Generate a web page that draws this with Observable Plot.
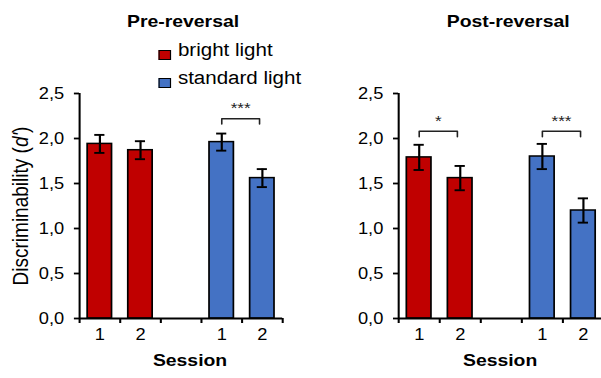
<!DOCTYPE html>
<html>
<head>
<meta charset="utf-8">
<script src="https://cdn.jsdelivr.net/npm/d3@7"></script>
<script src="https://cdn.jsdelivr.net/npm/@observablehq/plot@0.6"></script>
<style>
  html, body { margin: 0; padding: 0; background: #fff; }
  body { width: 601px; height: 378px; overflow: hidden; font-family: "Liberation Sans", Arial, sans-serif; color: #000; }
  #stage { position: absolute; left: 0; top: 0; width: 527px; height: 378px; transform: scaleX(1.1404); transform-origin: 0 0; }
  .abs { position: absolute; white-space: nowrap; line-height: 1; }
  .title { font-weight: bold; font-size: 17px; transform: translateX(-50%); }
  .leg { font-size: 18px; }
  .sw { position: absolute; width: 9px; height: 8px; border: 1.5px solid #000; }
  .ylab { font-size: 19px; transform: translate(-50%, -50%) rotate(-90deg); }
  #left, #right { position: absolute; top: 0; }
  #left { left: 0; }
  #right { left: 263px; }
</style>
</head>
<body>
<div id="stage">
  <div id="left"></div>
  <div id="right"></div>
</div>
<script>
// ---- data ----
const panelTitles = ["Pre-reversal", "Post-reversal"];
const conditions = ["bright light", "standard light"];
const sessions = ["1", "2"];
const colors = ["#C00000", "#4472C4"];
const yTicks = [0, 0.5, 1.0, 1.5, 2.0, 2.5];
// order: bright 1, bright 2, standard 1, standard 2
const preMeans = [1.94, 1.87, 1.96, 1.56];
const preSE = [0.10, 0.10, 0.095, 0.10];
const postMeans = [1.79, 1.56, 1.80, 1.20];
const postSE = [0.14, 0.135, 0.14, 0.135];
// significance brackets: condition index, bracket level (d'), label
const preSig = [{cond: 1, level: 2.22, label: "***"}];
const postSig = [{cond: 0, level: 2.08, label: "*"}, {cond: 1, level: 2.08, label: "***"}];
const yLabel = "Discriminability";
const xLabel = "Session";

// ---- helpers ----
const slotsPerCond = sessions.length + 1;
const nSlots = conditions.length * slotsPerCond - 1;
const slotOf = (ci, si) => ci * slotsPerCond + si;
const fmt = d => d3.format(".1f")(d).replace(".", ",");

function buildData(means, se) {
  return means.map((m, i) => {
    const ci = Math.floor(i / sessions.length), si = i % sessions.length;
    return {cond: conditions[ci], session: sessions[si], slot: slotOf(ci, si), mean: m, se: se[i]};
  });
}

function panel(means, se, sigs, width, xRange) {
  const data = buildData(means, se);
  const drop = 0.06;
  const brackets = sigs.flatMap((s, k) => {
    const a = slotOf(s.cond, 0) + 0.5, b = slotOf(s.cond, 1) + 0.5 - 0.07;
    return [
      {id: k, x: a, y: s.level - drop}, {id: k, x: a, y: s.level},
      {id: k, x: b, y: s.level}, {id: k, x: b, y: s.level - drop}
    ];
  });
  const starData = sigs.map(s => ({x: slotOf(s.cond, 0) + 1 - 0.035, y: s.level, label: s.label}));
  const labelTicks = data.map(d => d.slot + 0.5);
  return Plot.plot({
    width, height: 378,
    marginTop: 93, marginBottom: 60, marginLeft: xRange[0], marginRight: 0,
    style: {fontFamily: "Liberation Sans, Arial, sans-serif", color: "#000", background: "transparent", overflow: "visible"},
    x: {domain: [0, nSlots], range: xRange, axis: null},
    y: {domain: [0, 2.5], axis: null},
    color: {domain: conditions, range: colors},
    marks: [
      Plot.rectY(data, {x1: d => d.slot + 0.2, x2: d => d.slot + 0.8, y1: 0, y2: "mean", fill: "cond", stroke: "#000", strokeWidth: 1.5}),
      Plot.ruleX(data, {x: d => d.slot + 0.5, y1: d => d.mean - d.se, y2: d => d.mean + d.se, strokeWidth: 1.9}),
      Plot.ruleY(data, {y: d => d.mean + d.se, x1: d => d.slot + 0.375, x2: d => d.slot + 0.625, strokeWidth: 1.9}),
      Plot.ruleY(data, {y: d => d.mean - d.se, x1: d => d.slot + 0.375, x2: d => d.slot + 0.625, strokeWidth: 1.9}),
      Plot.line(brackets, {x: "x", y: "y", z: "id", stroke: "#222", strokeWidth: 1.4}),
      Plot.text(starData, {x: "x", y: "y", text: "label", lineAnchor: "bottom", dy: -5.5, fontSize: 15, fill: "#222"}),
      Plot.ruleX([0], {y1: 0, y2: 2.5, strokeWidth: 1.8}),
      Plot.ruleY([0], {x1: 0, x2: nSlots, strokeWidth: 2}),
      Plot.axisY({ticks: yTicks, tickFormat: fmt, tickSize: 4.5, tickPadding: 9, fontSize: 16, strokeWidth: 1.8, label: null}),
      Plot.axisX({ticks: d3.range(0, nSlots + 1), tickFormat: () => "", tickSize: 5, strokeWidth: 1.8, label: null}),
      Plot.axisX({ticks: labelTicks, tickFormat: t => data.find(d => d.slot + 0.5 === t).session, tickSize: 0, tickPadding: 10, fontSize: 16, label: null}),
      Plot.text([xLabel], {frameAnchor: "bottom", lineAnchor: "top", dy: 35, fontSize: 17, fontWeight: "bold"})
    ]
  });
}

document.getElementById("left").append(panel(preMeans, preSE, preSig, 263, [69.3, 247.4]));
document.getElementById("right").append(panel(postMeans, postSE, postSig, 264, [86.1, 266.1]));

// ---- titles, legend, y label (HTML text) ----
const stage = document.getElementById("stage");
function addDiv(cls, html, left, top) {
  const el = document.createElement("div");
  el.className = "abs " + cls;
  el.innerHTML = html;
  el.style.left = left + "px";
  el.style.top = top + "px";
  stage.append(el);
  return el;
}
addDiv("title", panelTitles[0], 160.5, 13.3);
addDiv("title", panelTitles[1], 445.6, 13.3);
conditions.forEach((c, i) => {
  const top = 41 + i * 28.4;
  const sw = document.createElement("div");
  sw.className = "sw";
  sw.style.left = "138.9px";
  sw.style.top = (top + 8.6) + "px";
  sw.style.background = colors[i];
  stage.append(sw);
  addDiv("leg", c, 156, top);
});
addDiv("ylab", yLabel + " (<i>d'</i>)", 17.5, 206);
</script>
</body>
</html>
